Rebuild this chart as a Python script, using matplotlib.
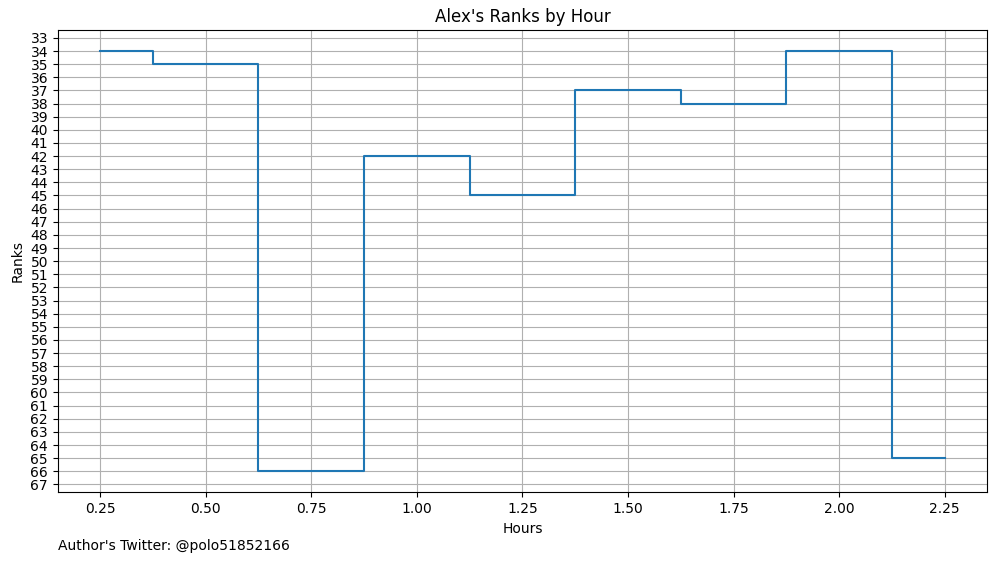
import matplotlib
matplotlib.use("Agg")
import matplotlib.pyplot as plt

# hours since start and rank at that hour
hours = [0.25, 0.5, 0.75, 1.0, 1.25, 1.5, 1.75, 2.0, 2.25]
ranks = [34, 35, 66, 42, 45, 37, 38, 34, 65]
rank_ticks = list(range(33, 68))

fig = plt.figure(figsize=(9.97, 5.62), dpi=100)
ax = fig.add_axes([0.058, 0.124, 0.932, 0.8226])
ax.step(hours, ranks, where="mid")
ax.set_yticks(rank_ticks)
ax.invert_yaxis()
ax.grid(True)
ax.set_xlabel("Hours")
ax.set_ylabel("Ranks")
ax.set_title("Alex's Ranks by Hour")
fig.text(0.058, 0.021, "Author's Twitter: @polo51852166", fontsize=10)

fig.savefig("out.png", dpi=100)
